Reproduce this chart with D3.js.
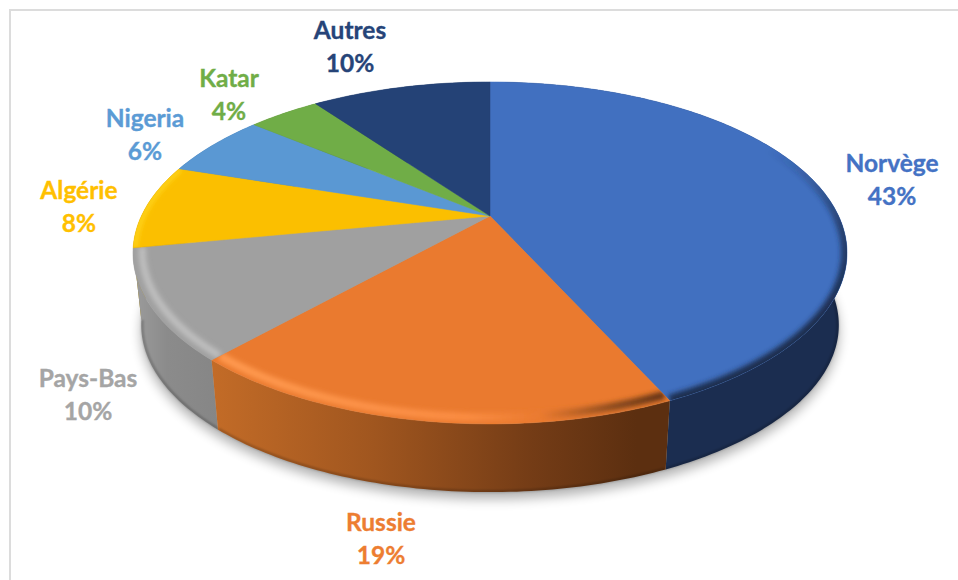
<!DOCTYPE html>
<html>
<head>
<meta charset="utf-8">
<style>
  html, body { margin: 0; padding: 0; background: #fff; overflow: hidden; }
  text { font-family: Lato, "Open Sans", sans-serif; font-weight: 700; font-size: 24.5px; text-anchor: middle; stroke-width: 0.35px; }
</style>
<script src="https://d3js.org/d3.v7.min.js"></script>
</head>
<body>
<script type="text/javascript">

  // values (labels are rounded to whole percents)
  var categories = ["Norvège", "Russie", "Pays-Bas", "Algérie", "Nigeria", "Katar", "Autres"];
  var values = [43.2, 18.5, 10.3, 8, 6, 4, 10];

  var faceColors = ["#4170c0", "#ea7a2f", "#a0a0a0", "#fbbf00", "#5a98d3", "#70ad47", "#244276"];
  var textColors = ["#4472c4", "#ed7d31", "#a5a5a5", "#ffc000", "#5b9bd5", "#70ad47", "#264478"];
  var labelX = [892, 381, 88, 79, 145, 229, 350];
  var labelY = [172, 531, 387, 199, 127, 87, 39];

  var w = 958, h = 580;

  var svg = d3.select("body").append("svg")
      .attr("width", w)
      .attr("height", h)
      .style("display", "block");

  svg.append("rect")
      .attr("x", 10).attr("y", 10)
      .attr("width", 1000).attr("height", 1000)
      .attr("fill", "#fff")
      .attr("stroke", "#dcdcdc")
      .attr("stroke-width", 2);

  var defs = svg.append("defs");

  function blur(id, dev) {
    defs.append("filter")
        .attr("id", id)
        .attr("filterUnits", "userSpaceOnUse")
        .attr("x", 0).attr("y", 0)
        .attr("width", w).attr("height", h)
      .append("feGaussianBlur")
        .attr("stdDeviation", dev);
  }
  blur("soft", 6);
  blur("bevelBlur", 2.6);
  blur("edgeBlur", 1);

  function gradient(id, x1, y1, x2, y2, stops) {
    var g = defs.append("linearGradient")
        .attr("id", id)
        .attr("gradientUnits", "userSpaceOnUse")
        .attr("x1", x1).attr("y1", y1)
        .attr("x2", x2).attr("y2", y2);
    stops.forEach(function(s) {
      g.append("stop")
          .attr("offset", s[0])
          .attr("stop-color", s[1])
          .attr("stop-opacity", s[2] === undefined ? 1 : s[2]);
    });
  }

  // side walls
  gradient("wallRussie", 215, 0, 668, 0, [[0, "#c26b27"], [0.35, "#a0561f"], [0.7, "#743c16"], [0.93, "#5c2f10"], [1, "#5c2f10"]]);
  gradient("wallPays", 133, 0, 218, 0, [[0, "#9c9c9c"], [0.4, "#8b8b8b"], [1, "#868686"]]);
  // rim of the top face
  gradient("bevelNorvege", 0, 150, 0, 320, [[0, "#1b2d50", 0], [0.45, "#1b2d50", 0.7], [1, "#1b2d50"]]);
  gradient("bevelRussie", 215, 0, 668, 0, [[0, "#ff9a50"], [0.55, "#fb8d43"], [0.72, "#ea7a2f"], [0.88, "#8a4a1e"], [1, "#5c2f10"]]);

  var wallFill = ["#1b2d50", "url(#wallRussie)", "url(#wallPays)", "#a88500", "#3a6a96", "#4c7630", "#1a2f52"];
  var bevelStroke = ["url(#bevelNorvege)", "url(#bevelRussie)", "#bfbfbf", "#ffd820", "none", "none", "none"];
  var bevelRadius = [1, 0.975, 0.975, 0.995, 1, 1, 1];
  var bevelWidth = [12, 8, 7, 4, 0, 0, 0];

  // perspective of the disc
  var persp = 0.216;
  var cx = 490, cy = 216;
  var sx = d3.scaleLinear().domain([-1, 1]).range([cx - 348.6, cx + 348.6]);
  var sy = d3.scaleLinear().domain([-1, 1]).range([cy - 163, cy + 163]);
  var depth = 73, shrink = 0.977;

  function project(a, r, bottom) {
    var u = r * Math.sin(a),
        v = -r * Math.cos(a),
        q = 1 - persp * v,
        s = bottom ? shrink : 1;
    return [cx + s * (sx(u / q) - cx), cy + s * (sy(v / q) - cy) + (bottom ? depth : 0)];
  }

  function arcPoints(a0, a1, r, bottom) {
    var n = Math.max(2, Math.ceil((a1 - a0) * 60));
    return d3.range(n + 1).map(function(i) {
      return project(a0 + (a1 - a0) * i / n, r, bottom);
    });
  }

  var line = d3.line();

  var pie = d3.pie().sort(null)(values);

  // shadow under the disc
  svg.append("path")
      .attr("d", line(arcPoints(0, 2 * Math.PI, 1, true)) + "Z")
      .attr("transform", "translate(0,7)")
      .attr("fill", "#000")
      .attr("opacity", 0.3)
      .attr("filter", "url(#soft)");

  // walls, back ones first
  var wallOrder = [6, 5, 4, 3, 0, 2, 1];
  wallOrder.forEach(function(i) {
    var d = pie[i];
    var pts = arcPoints(d.startAngle, d.endAngle, 1, false)
        .concat(arcPoints(d.startAngle, d.endAngle, 1, true).reverse());
    svg.append("path")
        .attr("d", line(pts) + "Z")
        .attr("fill", wallFill[i]);
    // darker lower edge
    svg.append("path")
        .attr("d", line(arcPoints(d.startAngle, d.endAngle, 0.997, true)))
        .attr("fill", "none")
        .attr("stroke", "#000")
        .attr("stroke-opacity", 0.22)
        .attr("stroke-width", 2.5)
        .attr("filter", "url(#edgeBlur)");
  });

  // top face
  pie.forEach(function(d, i) {
    var pts = [[cx, cy]].concat(arcPoints(d.startAngle, d.endAngle, 1, false));
    var path = line(pts) + "Z";

    svg.append("path")
        .attr("d", path)
        .attr("fill", faceColors[i])
        .attr("stroke", faceColors[i])
        .attr("stroke-width", 0.5);

    if (bevelStroke[i] !== "none") {
      defs.append("clipPath")
          .attr("id", "clip" + i)
        .append("path")
          .attr("d", path);
      svg.append("g")
          .attr("clip-path", "url(#clip" + i + ")")
        .append("path")
          .attr("d", line(arcPoints(d.startAngle, d.endAngle, bevelRadius[i], false)))
          .attr("fill", "none")
          .attr("stroke", bevelStroke[i])
          .attr("stroke-width", bevelWidth[i])
          .attr("filter", "url(#bevelBlur)");
    }
  });

  // labels
  categories.forEach(function(c, i) {
    var t = svg.append("text")
        .attr("x", labelX[i])
        .attr("y", labelY[i])
        .attr("fill", textColors[i])
        .attr("stroke", textColors[i]);
    t.append("tspan").text(c);
    t.append("tspan")
        .attr("x", labelX[i])
        .attr("dy", 33)
        .text(Math.round(values[i]) + "%");
  });

</script>
</body>
</html>
